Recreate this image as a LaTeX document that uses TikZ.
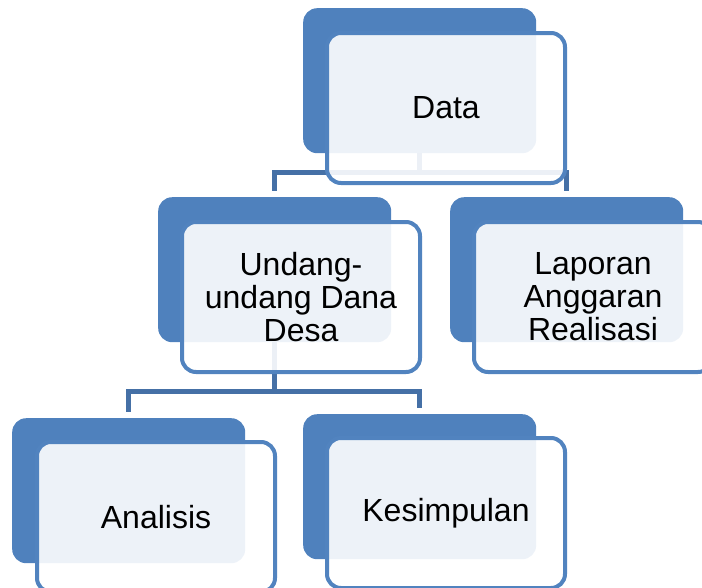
\documentclass[tikz,border=0pt]{standalone}
\usepackage{fontspec}
\setmainfont{Liberation Sans}
\definecolor{backblue}{HTML}{4F81BD}
\definecolor{edgeblue}{HTML}{5183BF}
\definecolor{connblue}{HTML}{4570A6}
\tikzset{
  backbox/.style={anchor=north west, fill=backblue, draw=none, rounded corners=14pt,
    minimum width=233pt, minimum height=145pt, inner sep=0pt},
  frontbox/.style={anchor=north west, draw=edgeblue, line width=4pt, fill=white,
    fill opacity=0.9, draw opacity=1, text opacity=1, rounded corners=14pt,
    minimum width=238pt, minimum height=150pt, inner sep=0pt, align=center,
    font=\fontsize{32}{33}\selectfont},
  conn/.style={draw=connblue, line width=5pt, shorten >=6pt}
}
\begin{document}
\begin{tikzpicture}[x=1pt, y=-1pt]
\useasboundingbox (0,0) rectangle (702,587);
\clip (0,0) rectangle (702,587);
% back boxes
\node[backbox] (dataB) at (303,8) {};
\node[backbox] (undB) at (158,197) {};
\node[backbox] (lapB) at (450,197) {};
\node[backbox] (anaB) at (12,418) {};
\node[backbox] (kesB) at (303,414) {};
% junction levels
\coordinate (j1) at (0,172.5);
\coordinate (j2) at (0,391);
% connectors
\draw[conn] (dataB.south) -- (dataB.south |- j1) -| (undB.north);
\draw[conn] (dataB.south) -- (dataB.south |- j1) -| (lapB.north);
\draw[conn] (undB.south) -- (undB.south |- j2) -| (anaB.north);
\draw[conn] (undB.south) -- (undB.south |- j2) -| (kesB.north);
% front boxes
\node[frontbox] (dataF) at (325,31) {Data};
\node[frontbox] (undF) at (180,220) {Undang-\\undang Dana\\Desa};
\node[frontbox] (lapF) at (472,220) {Laporan\\Anggaran\\Realisasi};
\node[frontbox] (anaF) at (35,440) {Analisis};
\node[frontbox] (kesF) at (325,436) {Kesimpulan};
\end{tikzpicture}
\end{document}
